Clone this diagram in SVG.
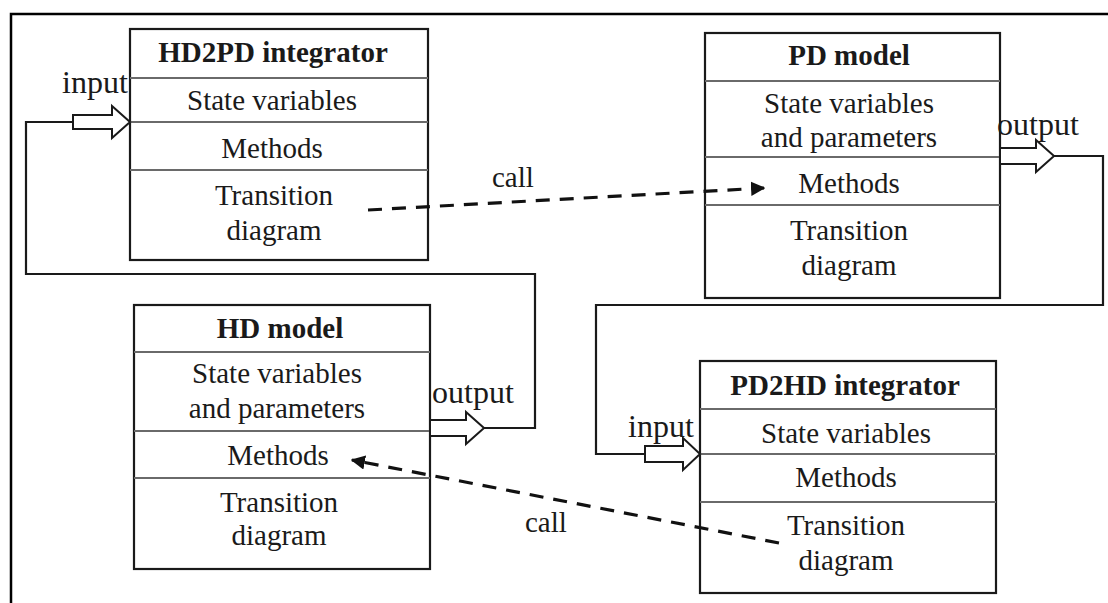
<svg xmlns="http://www.w3.org/2000/svg" width="1108" height="603" viewBox="0 0 1108 603">
<style>
.box{fill:#fff;stroke:#1a1a1a;stroke-width:2.2}
.div{stroke:#6a6a6a;stroke-width:1.8}
.t{font-family:"Liberation Serif","Times New Roman",serif;font-size:29px;fill:#1a1a1a;text-anchor:middle}
.b{font-weight:bold}
.lbl{font-family:"Liberation Serif","Times New Roman",serif;font-size:32px;fill:#1a1a1a}
.cl{font-family:"Liberation Serif","Times New Roman",serif;font-size:29px;fill:#1a1a1a}
.wire{fill:none;stroke:#1a1a1a;stroke-width:2.2}
.dash{fill:none;stroke:#111;stroke-width:3.2;stroke-dasharray:14 10}
.barrow{fill:#fff;stroke:#1a1a1a;stroke-width:2}
</style>
<defs>
<marker id="ah" viewBox="0 0 10 10" refX="9" refY="5" markerWidth="4.5" markerHeight="4.5" orient="auto" markerUnits="strokeWidth">
<path d="M0,0 L10,5 L0,10 z" fill="#111"/>
</marker>
</defs>
<rect x="11" y="14" width="1100" height="600" fill="none" stroke="#000" stroke-width="2.5"/>

<g id="hd2pd">
<rect class="box" x="130" y="29" width="298" height="231"/>
<line class="div" x1="130" y1="78" x2="428" y2="78"/>
<line class="div" x1="130" y1="122" x2="428" y2="122"/>
<line class="div" x1="130" y1="170" x2="428" y2="170"/>
<text class="t b" x="273" y="62">HD2PD integrator</text>
<text class="t" x="272" y="110">State variables</text>
<text class="t" x="272" y="158">Methods</text>
<text class="t" x="274" y="205">Transition</text>
<text class="t" x="274" y="240">diagram</text>
</g>

<g id="pd-model">
<rect class="box" x="705" y="33" width="295" height="265"/>
<line class="div" x1="705" y1="81" x2="1000" y2="81"/>
<line class="div" x1="705" y1="157" x2="1000" y2="157"/>
<line class="div" x1="705" y1="205" x2="1000" y2="205"/>
<text class="t b" x="849" y="65">PD model</text>
<text class="t" x="849" y="113">State variables</text>
<text class="t" x="849" y="147">and parameters</text>
<text class="t" x="849" y="193">Methods</text>
<text class="t" x="849" y="240">Transition</text>
<text class="t" x="849" y="275">diagram</text>
</g>

<g id="hd-model">
<rect class="box" x="134" y="305" width="296" height="264"/>
<line class="div" x1="134" y1="352" x2="430" y2="352"/>
<line class="div" x1="134" y1="431" x2="430" y2="431"/>
<line class="div" x1="134" y1="478" x2="430" y2="478"/>
<text class="t b" x="280" y="338">HD model</text>
<text class="t" x="277" y="383">State variables</text>
<text class="t" x="277" y="418">and parameters</text>
<text class="t" x="278" y="465">Methods</text>
<text class="t" x="279" y="512">Transition</text>
<text class="t" x="279" y="545">diagram</text>
</g>

<g id="pd2hd">
<rect class="box" x="700" y="361" width="296" height="232"/>
<line class="div" x1="700" y1="409" x2="996" y2="409"/>
<line class="div" x1="700" y1="454" x2="996" y2="454"/>
<line class="div" x1="700" y1="502" x2="996" y2="502"/>
<text class="t b" x="845" y="395">PD2HD integrator</text>
<text class="t" x="846" y="443">State variables</text>
<text class="t" x="846" y="487">Methods</text>
<text class="t" x="846" y="535">Transition</text>
<text class="t" x="846" y="570">diagram</text>
</g>

<g id="connectors">
<path class="wire" d="M73,122 H26 V274 H535 V428 H484"/>
<path class="wire" d="M1054,156 H1103 V305 H596 V454 H645"/>
<polygon class="barrow" points="73,115 112,115 112,106 130,122 112,138 112,129 73,129"/>
<polygon class="barrow" points="430,420 466,420 466,412 484,428 466,444 466,436 430,436"/>
<polygon class="barrow" points="1000,148 1036,148 1036,140 1054,156 1036,172 1036,164 1000,164"/>
<polygon class="barrow" points="645,446 683,446 683,438 700,454 683,470 683,462 645,462"/>
<line class="dash" x1="368" y1="210" x2="764" y2="188" marker-end="url(#ah)"/>
<line class="dash" x1="779" y1="543" x2="352" y2="460" marker-end="url(#ah)"/>
<text class="lbl" x="62" y="93">input</text>
<text class="lbl" x="432" y="403">output</text>
<text class="lbl" x="997" y="135">output</text>
<text class="lbl" x="628" y="437">input</text>
<text class="cl" x="492" y="187">call</text>
<text class="cl" x="525" y="532">call</text>
</g>
</svg>
